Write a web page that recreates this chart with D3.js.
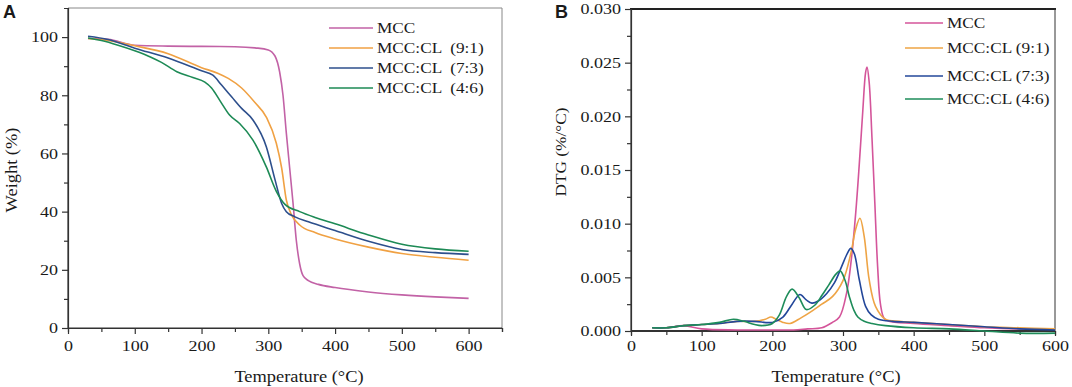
<!DOCTYPE html>
<html>
<head>
<meta charset="utf-8">
<script src="https://cdn.jsdelivr.net/npm/d3@7"></script>
<style>
  body { margin: 0; background: #fff; }
  svg { display: block; }
  text { font-family: "Liberation Serif", "Times New Roman", serif; fill: #1a1a1a; }
</style>
</head>
<body>
<div id="chart"></div>
<script>
// series names (legend text differs a little between the two panels)
const namesA = ["MCC", "MCC:CL  (9:1)", "MCC:CL  (7:3)", "MCC:CL  (4:6)"];
const namesB = ["MCC", "MCC:CL (9:1)", "MCC:CL (7:3)", "MCC:CL (4:6)"];
const colorsA = ["#c262a6", "#f0a143", "#2d4f8c", "#1d8a55"];
const colorsB = ["#d4559a", "#eea445", "#23479a", "#1e8c5a"];

// panel A : TGA, weight (%) vs temperature
const mccT_A  = [30, 60, 100, 150, 200, 250, 280, 300, 310, 317, 322, 327, 332, 337, 342, 347, 352, 360, 375, 400, 450, 500, 550, 600];
const mccW_A  = [99.5, 99.2, 97.2, 96.9, 96.8, 96.7, 96.3, 95.6, 93.5, 88, 80, 67, 55, 43, 30, 22, 18, 16.3, 15, 13.9, 12.4, 11.4, 10.7, 10.2];
const c91T_A  = [30, 60, 100, 150, 200, 225, 240, 260, 280, 297, 312, 320, 327, 335, 347, 370, 400, 450, 500, 550, 600];
const c91W_A  = [99.5, 98.8, 97, 94.3, 89.5, 87.5, 85.8, 82.5, 77.5, 72.5, 63.5, 55, 44, 38.8, 35.4, 32.8, 30.6, 27.8, 25.6, 24.3, 23.3];
const c73T_A  = [30, 60, 100, 150, 200, 217, 230, 245, 260, 277, 297, 310, 320, 327, 340, 360, 400, 450, 500, 550, 600];
const c73W_A  = [100.3, 99.2, 96.2, 92.8, 88.4, 86.9, 83.5, 79.5, 75.5, 71.5, 62.3, 51, 42.8, 40, 38.2, 36.5, 33.5, 29.8, 27, 25.9, 25.3];
const c46T_A  = [30, 50, 75, 100, 125, 140, 163, 187, 205, 215, 228, 242, 257, 277, 297, 312, 325, 347, 370, 400, 450, 500, 550, 600];
const c46W_A  = [99.7, 98.8, 97.2, 95.3, 93, 91.3, 88.1, 86.1, 84.5, 82.5, 78, 73.2, 70.3, 64.6, 55.4, 47, 42.5, 40, 38, 35.8, 32, 28.8, 27.2, 26.4];

// panel B : DTG (%/°C) vs temperature
const mccT_B  = [30, 50, 75, 100, 150, 200, 230, 250, 270, 285, 295, 305, 312, 318, 323, 328, 332, 334, 337, 341, 345, 349, 353, 358, 365, 400, 450, 500, 550, 600];
const mccD_B  = [0.0003, 0.0003, 0.0005, 0.0002, 0.0001, 0.0001, 0.0001, 0.0002, 0.0003, 0.0008, 0.0013, 0.0035, 0.0068, 0.011, 0.0155, 0.0205, 0.0241, 0.0246, 0.0232, 0.018, 0.012, 0.006, 0.0025, 0.0012, 0.0009, 0.0007, 0.0005, 0.0003, 0.0002, 0.0002];
const c91T_B  = [30, 50, 75, 100, 125, 150, 175, 190, 198, 205, 215, 225, 240, 257, 270, 285, 300, 311, 318, 324, 330, 337, 346, 360, 380, 400, 450, 500, 550, 600];
const c91D_B  = [0.0003, 0.0003, 0.0005, 0.0006, 0.0007, 0.0009, 0.0009, 0.0011, 0.0013, 0.0011, 0.0008, 0.0007, 0.0012, 0.0019, 0.0025, 0.0032, 0.0047, 0.0072, 0.0095, 0.0105, 0.0088, 0.0048, 0.0023, 0.0011, 0.0009, 0.0008, 0.0006, 0.0004, 0.0003, 0.0002];
const c73T_B  = [30, 50, 75, 100, 125, 150, 175, 200, 215, 228, 239, 248, 256, 265, 277, 288, 298, 306, 311, 316, 323, 332, 340, 350, 370, 400, 450, 500, 550, 600];
const c73D_B  = [0.0003, 0.0003, 0.0005, 0.0006, 0.0007, 0.0009, 0.0009, 0.0008, 0.0013, 0.0025, 0.0034, 0.0029, 0.0026, 0.0028, 0.0035, 0.0045, 0.006, 0.0072, 0.0077, 0.0072, 0.0048, 0.0023, 0.0015, 0.0011, 0.0009, 0.0008, 0.0006, 0.0004, 0.0002, 0.0001];
const c46T_B  = [30, 50, 75, 100, 125, 145, 160, 175, 185, 200, 210, 220, 228, 238, 248, 260, 270, 280, 290, 296, 303, 309, 315, 321, 330, 341, 360, 400, 450, 500, 550, 600];
const c46D_B  = [0.0003, 0.0003, 0.0005, 0.0006, 0.0008, 0.0011, 0.0009, 0.0006, 0.0005, 0.0007, 0.0015, 0.0032, 0.0039, 0.0031, 0.002, 0.0024, 0.0033, 0.0043, 0.0053, 0.0056, 0.0047, 0.0032, 0.002, 0.0013, 0.0009, 0.0007, 0.0005, 0.0003, 0.0002, 0.0, -0.0002, -0.0002];

const ticksA_x = [0, 100, 200, 300, 400, 500, 600];
const ticksA_y = [0, 20, 40, 60, 80, 100];
const ticksB_x = [0, 100, 200, 300, 400, 500, 600];
const ticksB_y = [0, 0.005, 0.010, 0.015, 0.020, 0.025, 0.030];

const seriesA = [[mccT_A, mccW_A], [c91T_A, c91W_A], [c73T_A, c73W_A], [c46T_A, c46W_A]];
const seriesB = [[mccT_B, mccD_B], [c91T_B, c91D_B], [c73T_B, c73D_B], [c46T_B, c46D_B]];

const svg = d3.select('#chart').append('svg')
  .attr('width', 1072)
  .attr('height', 387);

// the original text is wider than plain Times, stretch it a bit
function stretch(sel, k) {
  sel.each(function() {
    let w = this.getComputedTextLength();
    if (w > 0) {
      d3.select(this).attr('textLength', w * k).attr('lengthAdjust', 'spacingAndGlyphs');
    }
  });
}

function styleAxis(g) {
  g.select('.domain').attr('stroke', '#333').attr('stroke-width', 1.2);
  g.selectAll('.tick line').attr('stroke', '#333').attr('stroke-width', 1.2);
  g.selectAll('.tick text').style('font-family', '"Liberation Serif", serif').style('font-size', '15px').attr('fill', '#1a1a1a');
}

// ---------- panel A ----------
let xA = d3.scaleLinear().domain([0, 650]).range([68, 502]);
let yA = d3.scaleLinear().domain([0, 110]).range([328, 8]);

let gA = svg.append('g');

gA.append('line').attr('x1', 68).attr('x2', 502).attr('y1', 8).attr('y2', 8).attr('stroke', '#888');
gA.append('line').attr('x1', 502).attr('x2', 502).attr('y1', 8).attr('y2', 328).attr('stroke', '#888');

// minor ticks
gA.append('g').attr('transform', 'translate(0,328)')
  .call(d3.axisBottom(xA).tickValues([50, 150, 250, 350, 450, 550, 650]).tickSize(4).tickFormat(''))
  .call(styleAxis);
gA.append('g').attr('transform', 'translate(68,0)')
  .call(d3.axisLeft(yA).tickValues([10, 30, 50, 70, 90]).tickSize(4).tickFormat(''))
  .call(styleAxis);

let axA_x = gA.append('g').attr('transform', 'translate(0,328)')
  .call(d3.axisBottom(xA).tickValues(ticksA_x).tickSize(6).tickSizeOuter(0).tickPadding(6).tickFormat(d3.format('d')))
  .call(styleAxis);
let axA_y = gA.append('g').attr('transform', 'translate(68,0)')
  .call(d3.axisLeft(yA).tickValues(ticksA_y).tickSize(6).tickSizeOuter(0).tickPadding(4).tickFormat(d3.format('d')))
  .call(styleAxis);
axA_x.select('.domain').attr('d', 'M68,0H502');
axA_y.select('.domain').attr('d', 'M0,328V8');

let lineA = d3.line().x(d => xA(d[0])).y(d => yA(d[1])).curve(d3.curveMonotoneX);
seriesA.forEach(function(s, i) {
  let pts = s[0].map((t, j) => [t, s[1][j]]);
  gA.append('path')
    .attr('d', lineA(pts))
    .attr('fill', 'none')
    .attr('stroke', colorsA[i])
    .attr('stroke-width', 1.6);
});

// legend A
namesA.forEach(function(n, i) {
  let y = 28 + i * 20;
  gA.append('line').attr('x1', 329).attr('x2', 373).attr('y1', y).attr('y2', y)
    .attr('stroke', colorsA[i]).attr('stroke-width', 1.4);
  gA.append('text').attr('class', 'leg').attr('x', 377).attr('y', y).attr('dy', '0.35em')
    .style('font-size', '15px').style('white-space', 'pre').text(n);
});

gA.append('text').attr('class', 'ttl').attr('x', 299).attr('y', 382).attr('text-anchor', 'middle')
  .style('font-size', '16px').text('Temperature (°C)');
gA.append('text').attr('class', 'ttl').attr('transform', 'translate(17,170) rotate(-90)').attr('text-anchor', 'middle')
  .style('font-size', '16px').text('Weight (%)');

svg.append('text').attr('x', 3).attr('y', 18)
  .style('font-family', 'Arial, "Liberation Sans", sans-serif').style('font-weight', 'bold').style('font-size', '18px')
  .text('A');

// ---------- panel B ----------
let xB = d3.scaleLinear().domain([0, 600]).range([631, 1055]);
let yB = d3.scaleLinear().domain([0, 0.030]).range([331, 9]);

let gB = svg.append('g');

gB.append('line').attr('x1', 630).attr('x2', 1056).attr('y1', 9).attr('y2', 9).attr('stroke', '#222').attr('stroke-width', 2.2);
gB.append('line').attr('x1', 1055).attr('x2', 1055).attr('y1', 9).attr('y2', 331).attr('stroke', '#333');

gB.append('g').attr('transform', 'translate(0,331)')
  .call(d3.axisBottom(xB).tickValues([50, 150, 250, 350, 450, 550]).tickSize(4).tickFormat(''))
  .call(styleAxis);
gB.append('g').attr('transform', 'translate(631,0)')
  .call(d3.axisLeft(yB).tickValues([0.0025, 0.0075, 0.0125, 0.0175, 0.0225, 0.0275]).tickSize(4).tickFormat(''))
  .call(styleAxis);

let axB_x = gB.append('g').attr('transform', 'translate(0,331)')
  .call(d3.axisBottom(xB).tickValues(ticksB_x).tickSize(5).tickSizeOuter(0).tickPadding(4).tickFormat(d3.format('d')))
  .call(styleAxis);
let axB_y = gB.append('g').attr('transform', 'translate(631,0)')
  .call(d3.axisLeft(yB).tickValues(ticksB_y).tickSize(6).tickSizeOuter(0).tickPadding(4).tickFormat(d3.format('.3f')))
  .call(styleAxis);
axB_x.select('.domain').attr('d', 'M631,0H1055').attr('stroke-width', 1.8);
axB_y.select('.domain').attr('d', 'M0,331V9');

let lineB = d3.line().x(d => xB(d[0])).y(d => yB(d[1])).curve(d3.curveCatmullRom.alpha(0.5));
seriesB.forEach(function(s, i) {
  let pts = s[0].map((t, j) => [t, s[1][j]]);
  gB.append('path')
    .attr('d', lineB(pts))
    .attr('fill', 'none')
    .attr('stroke', colorsB[i])
    .attr('stroke-width', 1.6);
});

namesB.forEach(function(n, i) {
  let y = [23, 48, 76, 99][i];
  gB.append('line').attr('x1', 905).attr('x2', 943).attr('y1', y).attr('y2', y)
    .attr('stroke', colorsB[i]).attr('stroke-width', 1.6);
  gB.append('text').attr('class', 'leg').attr('x', 947).attr('y', y).attr('dy', '0.35em')
    .style('font-size', '15px').text(n);
});

gB.append('text').attr('class', 'ttl').attr('x', 836).attr('y', 382).attr('text-anchor', 'middle')
  .style('font-size', '16px').text('Temperature (°C)');
gB.append('text').attr('class', 'ttl').attr('transform', 'translate(566,152) rotate(-90)').attr('text-anchor', 'middle')
  .style('font-size', '15px').text('DTG (%/°C)');

svg.append('text').attr('x', 555).attr('y', 18)
  .style('font-family', 'Arial, "Liberation Sans", sans-serif').style('font-weight', 'bold').style('font-size', '18px')
  .text('B');

stretch(svg.selectAll('.tick text'), 1.2);
stretch(svg.selectAll('text.leg'), 1.15);
stretch(svg.selectAll('text.ttl'), 1.15);
</script>
</body>
</html>
